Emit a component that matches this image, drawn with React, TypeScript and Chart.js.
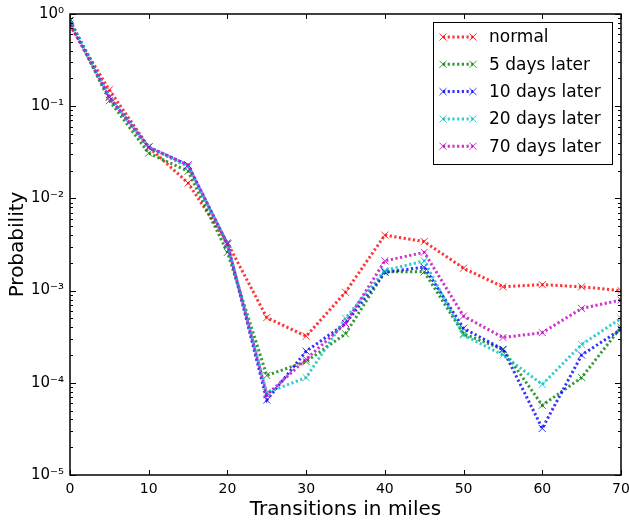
import React, { useEffect, useRef } from "react";
import { Chart, registerables } from "chart.js";

Chart.register(...registerables);

const MILES = [0, 5, 10, 15, 20, 25, 30, 35, 40, 45, 50, 55, 60, 65, 70];
const SERIES_NAMES = ["normal", "5 days later", "10 days later", "20 days later", "70 days later"];
const NORMAL = [0.75, 0.15, 0.036, 0.0147, 0.0033, 5.1e-4, 3.2e-4, 9.6e-4, 4.0e-3, 3.4e-3, 1.75e-3, 1.1e-3, 1.16e-3, 1.1e-3, 1.0e-3];
const DAYS5 = [0.85, 0.115, 0.031, 0.0197, 0.0026, 1.2e-4, 1.7e-4, 3.4e-4, 1.6e-3, 1.6e-3, 3.4e-4, 2.3e-4, 5.7e-5, 1.14e-4, 4.0e-4];
const DAYS10 = [0.85, 0.127, 0.036, 0.023, 0.0032, 6.5e-5, 2.2e-4, 4.4e-4, 1.58e-3, 1.8e-3, 3.9e-4, 2.3e-4, 3.2e-5, 2.0e-4, 3.8e-4];
const DAYS20 = [0.85, 0.127, 0.036, 0.022, 0.0032, 7.8e-5, 1.14e-4, 5.0e-4, 1.65e-3, 2.1e-3, 3.3e-4, 2.0e-4, 9.6e-5, 2.6e-4, 5.0e-4];
const DAYS70 = [0.78, 0.125, 0.036, 0.023, 0.0032, 7.4e-5, 1.8e-4, 4.4e-4, 2.1e-3, 2.6e-3, 5.3e-4, 3.1e-4, 3.5e-4, 6.4e-4, 7.9e-4];
const SERIES = [NORMAL, DAYS5, DAYS10, DAYS20, DAYS70];
const COLORS = ["rgba(255,0,0,0.8)", "rgba(0,128,0,0.8)", "rgba(0,0,255,0.8)", "rgba(0,191,191,0.8)", "rgba(191,0,191,0.8)"];
const X_TICKS = [0, 10, 20, 30, 40, 50, 60, 70];
const Y_TICKS = [1e-5, 1e-4, 1e-3, 1e-2, 1e-1, 1];
const SUP: Record<string, string> = { "-": "⁻", "0": "⁰", "1": "¹", "2": "²", "3": "³", "4": "⁴", "5": "⁵" };

const FONT = "'DejaVu Sans', sans-serif";
const DASH = [2.2, 2.5];

function drawCross(ctx: CanvasRenderingContext2D, x: number, y: number, r: number) {
  const d = r * Math.SQRT1_2;
  ctx.beginPath();
  ctx.moveTo(x - d, y - d);
  ctx.lineTo(x + d, y + d);
  ctx.moveTo(x + d, y - d);
  ctx.lineTo(x - d, y + d);
  ctx.stroke();
}

const framePlugin = {
  id: "frame",
  afterDatasetsDraw(chart: any) {
    const { ctx, chartArea } = chart;
    const { left, right, top, bottom } = chartArea;
    const xs = chart.scales.x;
    const ys = chart.scales.y;
    ctx.save();
    ctx.strokeStyle = "#000";
    ctx.lineWidth = 1;
    ctx.beginPath();
    for (const v of X_TICKS) {
      const px = Math.round(xs.getPixelForValue(v)) + 0.5;
      ctx.moveTo(px, bottom);
      ctx.lineTo(px, bottom - 5);
      ctx.moveTo(px, top);
      ctx.lineTo(px, top + 5);
    }
    for (const v of Y_TICKS) {
      const py = Math.round(ys.getPixelForValue(v)) + 0.5;
      ctx.moveTo(left, py);
      ctx.lineTo(left + 6, py);
      ctx.moveTo(right, py);
      ctx.lineTo(right - 6, py);
      if (v < 1) {
        for (let m = 2; m <= 9; m++) {
          const pm = Math.round(ys.getPixelForValue(v * m)) + 0.5;
          ctx.moveTo(left, pm);
          ctx.lineTo(left + 3, pm);
          ctx.moveTo(right, pm);
          ctx.lineTo(right - 3, pm);
        }
      }
    }
    ctx.stroke();
    ctx.lineWidth = 1.5;
    ctx.strokeRect(left, top, right - left, bottom - top);
    ctx.restore();
  },
  afterDraw(chart: any) {
    const { ctx } = chart;
    ctx.save();
    const bx = 433.5, by = 22.5, bw = 179, bh = 142;
    ctx.fillStyle = "#fff";
    ctx.fillRect(bx, by, bw, bh);
    ctx.strokeStyle = "#000";
    ctx.lineWidth = 1;
    ctx.strokeRect(bx, by, bw, bh);
    ctx.font = `17px ${FONT}`;
    ctx.textBaseline = "middle";
    ctx.textAlign = "left";
    chart.data.datasets.forEach((ds: any, i: number) => {
      const y = 37 + i * 27.3;
      ctx.strokeStyle = ds.borderColor;
      ctx.lineWidth = 3;
      ctx.setLineDash(DASH);
      ctx.beginPath();
      ctx.moveTo(443, y);
      ctx.lineTo(473, y);
      ctx.stroke();
      ctx.setLineDash([]);
      ctx.lineWidth = 1;
      drawCross(ctx, 443, y, 5);
      drawCross(ctx, 473, y, 5);
      ctx.fillStyle = "#000";
      ctx.fillText(ds.label, 489, y + 1);
    });
    ctx.restore();
  },
};

export default function App() {
  const ref = useRef<HTMLCanvasElement | null>(null);
  useEffect(() => {
    if (!ref.current) return;
    const chart = new Chart(ref.current, {
      type: "line",
      data: {
        datasets: SERIES.map((vals, i) => ({
          label: SERIES_NAMES[i],
          data: MILES.map((m, j) => ({ x: m, y: vals[j] })),
          borderColor: COLORS[i],
          backgroundColor: COLORS[i],
          borderWidth: 3,
          borderDash: DASH,
          pointStyle: "crossRot",
          pointRadius: 5,
          pointBorderWidth: 1,
          pointBorderColor: COLORS[i],
          fill: false,
          tension: 0,
          order: 5 - i,
        })),
      },
      options: {
        animation: false,
        responsive: false,
        devicePixelRatio: 1,
        layout: { padding: { left: 0, top: 14, right: 0, bottom: 0 } },
        plugins: { legend: { display: false }, tooltip: { enabled: false } },
        scales: {
          x: {
            type: "linear",
            min: 0,
            max: 70,
            grid: { display: false, drawTicks: false },
            border: { display: false },
            ticks: { stepSize: 10, color: "#000", font: { family: FONT, size: 14 }, padding: 6, maxRotation: 0 },
            title: { display: true, text: "Transitions in miles", color: "#000", font: { family: FONT, size: 20 }, padding: { top: 0, bottom: 2 } },
            afterFit: (s: any) => { s.height = 49; s.paddingLeft = 0; s.paddingRight = 8; },
          },
          y: {
            type: "logarithmic",
            min: 1e-5,
            max: 1,
            grid: { display: false, drawTicks: false },
            border: { display: false },
            afterBuildTicks: (s: any) => { s.ticks = Y_TICKS.map((v) => ({ value: v, major: true })); },
            ticks: {
              color: "#000",
              font: { family: FONT, size: 15 },
              padding: 6,
              callback: (v: any) => {
                const e = String(Math.round(Math.log10(Number(v))));
                return "10" + e.split("").map((c) => SUP[c] || c).join("");
              },
            },
            title: { display: true, text: "Probability", color: "#000", font: { family: FONT, size: 20 }, padding: { top: 6, bottom: 0 } },
            afterFit: (s: any) => { s.width = 70; s.paddingTop = 0; s.paddingBottom = 0; },
          },
        },
      },
      plugins: [framePlugin],
    } as any);
    return () => chart.destroy();
  }, []);
  return (
    <div style={{ position: "absolute", left: 0, top: 0, width: 629, height: 524, background: "#fff" }}>
      <canvas ref={ref} width={629} height={524} />
    </div>
  );
}
